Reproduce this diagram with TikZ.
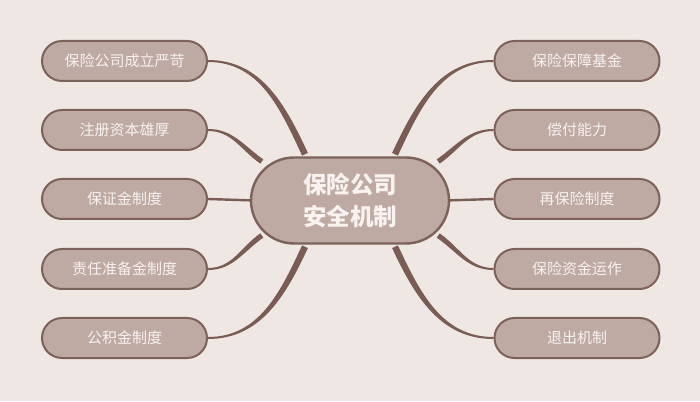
\documentclass[tikz,border=0pt]{standalone}
\usepackage{fontspec}
\newfontfamily\cjk{Noto Sans CJK SC}
\usetikzlibrary{calc}
\definecolor{bgc}{HTML}{EFE7E4}
\definecolor{boxfill}{HTML}{BEA9A3}
\definecolor{boxline}{HTML}{7D625A}
\definecolor{connc}{HTML}{7A5C54}
\definecolor{txtc}{HTML}{F8F2F0}
\pgfdeclarelayer{bgl}
\pgfdeclarelayer{back}
\pgfsetlayers{bgl,back,main}
\tikzset{
  leaf/.style={draw=boxline, line width=2pt, fill=boxfill, rounded corners=20pt,
    minimum width=165pt, minimum height=40pt, inner sep=0pt,
    font=\cjk\fontsize{15}{17}\selectfont, text=txtc},
  hub/.style={draw=boxline, line width=2.4pt, fill=boxfill, rounded corners=43pt,
    minimum width=198pt, minimum height=86pt, inner sep=0pt, align=center,
    font=\cjk\bfseries\fontsize{23.5}{32}\selectfont, text=txtc},
  conn/.style={fill=connc, draw=none},
}
\newcommand\taper[6]{%
  \fill[conn] ($#1+(#3+90:#5)$) to[out=#3,in=#4] ($#2+(#4-90:#6)$)
    -- ($#2+(#4+90:#6)$) to[out=#4,in=#3] ($#1+(#3-90:#5)$) -- cycle;}
\begin{document}
\begin{tikzpicture}[x=1pt,y=1pt]
\begin{pgfonlayer}{bgl}
\fill[bgc] (0,0) rectangle (700,401);
\end{pgfonlayer}
\useasboundingbox (0,0) rectangle (700,401);
\node[hub] (c) at (350,200.5) {保险公司\\安全机制};
\node[leaf] (l1) at (124.5,340) {保险公司成立严苛};
\node[leaf] (l2) at (124.5,271) {注册资本雄厚};
\node[leaf] (l3) at (124.5,202) {保证金制度};
\node[leaf] (l4) at (124.5,132) {责任准备金制度};
\node[leaf] (l5) at (124.5,63) {公积金制度};
\node[leaf] (r1) at (577,340) {保险保障基金};
\node[leaf] (r2) at (577,271) {偿付能力};
\node[leaf] (r3) at (577,202) {再保险制度};
\node[leaf] (r4) at (577,132) {保险资金运作};
\node[leaf] (r5) at (577,63) {退出机制};
\begin{pgfonlayer}{back}
\taper{(l1.east)}{($(c.north)+(-45,2)$)}{0}{115}{1}{3.2}
\taper{(l2.east)}{($(c.west)+(12,39)$)}{0}{145}{1}{2.6}
\draw[connc, line width=2.4pt] (l3.east) -- ($(c.west)+(5,0)$);
\taper{(l4.east)}{($(c.west)+(12,-35)$)}{0}{215}{1}{2.6}
\taper{(l5.east)}{($(c.south)+(-45,-2)$)}{0}{245}{1}{3.2}
\taper{(r1.west)}{($(c.north)+(45,2)$)}{180}{65}{1}{3.2}
\taper{(r2.west)}{($(c.east)+(-12,39)$)}{180}{35}{1}{2.6}
\draw[connc, line width=2.4pt] (r3.west) -- ($(c.east)+(-5,0)$);
\taper{(r4.west)}{($(c.east)+(-12,-35)$)}{180}{325}{1}{2.6}
\taper{(r5.west)}{($(c.south)+(45,-2)$)}{180}{295}{1}{3.2}
\end{pgfonlayer}
\end{tikzpicture}
\end{document}
